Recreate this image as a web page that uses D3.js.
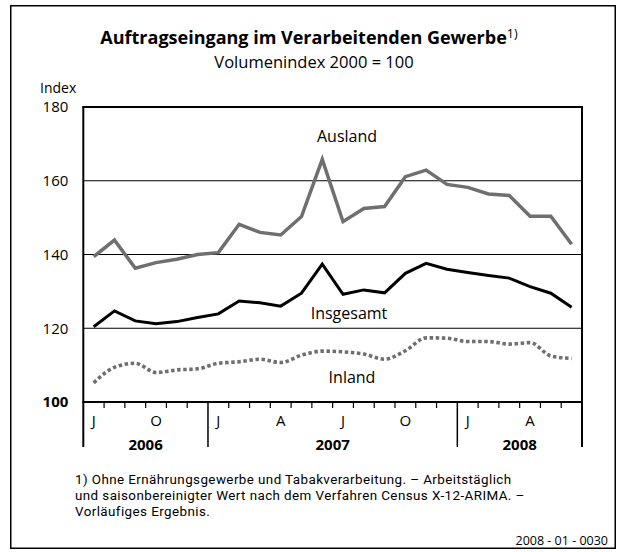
<!DOCTYPE html>
<html><head><meta charset="utf-8">
<script src="https://cdn.jsdelivr.net/npm/d3@7"></script>
<style>body{margin:0;background:#fff}svg{display:block}text{font-family:"Open Sans",sans-serif;fill:#000}</style>
</head><body>
<script>
const months = ["2006-07","2006-08","2006-09","2006-10","2006-11","2006-12","2007-01","2007-02","2007-03","2007-04","2007-05","2007-06","2007-07","2007-08","2007-09","2007-10","2007-11","2007-12","2008-01","2008-02","2008-03","2008-04","2008-05","2008-06"];
const monthLabels = ["J","","","O","","","J","","","A","","","J","","","O","","","J","","","A","",""];
const years = ["2006","2007","2008"];
const yearStart = [0,6,18];
const yearEnd = [6,18,24];
const ausland   = [139.4,143.9,136.3,137.8,138.7,140.0,140.5,148.2,146.0,145.3,150.3,165.8,148.9,152.5,153.0,161.1,162.9,159.0,158.2,156.4,156.0,150.4,150.4,142.8];
const insgesamt = [120.4,124.7,122.0,121.2,121.8,122.9,123.9,127.4,126.9,126.0,129.5,137.4,129.2,130.4,129.6,134.9,137.6,136.0,135.1,134.3,133.6,131.3,129.5,125.7];
const inland    = [105.2,109.4,110.5,108.0,108.7,109.0,110.5,110.9,111.6,110.7,112.7,113.8,113.6,113.0,111.6,113.9,117.4,117.3,116.4,116.4,115.7,116.1,112.5,111.8];
const yTicks = [100,120,140,160,180];
const gridValues = [120,140,160];

const W=617,H=552;
const svg=d3.select("body").append("svg").attr("width",W).attr("height",H);
svg.append("rect").attr("x",10.75).attr("y",5.75).attr("width",604.5).attr("height",542.5)
  .attr("fill","none").attr("stroke","#000").attr("stroke-width",1.5);

const L=83.3,R=582,T=107,B=402;
const x=d3.scaleBand().domain(months).range([L,R]).padding(0);
const y=d3.scaleLinear().domain([100,180]).range([B,T]);
const cx=m=>x(m)+x.bandwidth()/2;

// title
const title=svg.append("text").attr("x",309).attr("y",44).attr("text-anchor","middle")
  .style("font-size","18px").style("font-weight","bold");
title.append("tspan").text("Auftragseingang im Verarbeitenden Gewerbe");
title.append("tspan").attr("dy",-6).style("font-size","12.5px").style("font-weight","normal").text("1)");
svg.append("text").attr("x",314).attr("y",68).attr("text-anchor","middle").style("font-size","16.5px").text("Volumenindex 2000 = 100");

// gridlines
svg.selectAll("line.grid").data(gridValues).join("line").attr("class","grid")
  .attr("x1",L).attr("x2",R).attr("y1",d=>y(d)).attr("y2",d=>y(d)).attr("stroke","#000").attr("stroke-width",1);

// y axis labels
const yAxis=d3.axisLeft(y).tickValues(yTicks).tickSize(0).tickPadding(15).tickFormat(d3.format("d"));
const ga=svg.append("g").attr("transform",`translate(${L},0)`).call(yAxis);
ga.select(".domain").remove();
ga.selectAll("text").style("font-size","15px").style("font-family","'Open Sans',sans-serif").attr("fill","#000")
  .style("font-weight",d=>d===100?"bold":"normal");
svg.append("text").attr("x",40).attr("y",93).style("font-size","14px").text("Index");

// lines
const line=arr=>d3.line().x((d,i)=>cx(months[i])).y(d=>y(d))(arr);
svg.append("path").attr("d",d3.line().x((d,i)=>cx(months[i])).y(d=>y(d)).curve(d3.curveMonotoneX)(inland))
  .attr("fill","none").attr("stroke","#6f6f6f").attr("stroke-width",3.6).attr("stroke-dasharray","3.5,2.6");
svg.append("path").attr("d",line(ausland)).attr("fill","none").attr("stroke","#6f6f6f").attr("stroke-width",3.5).attr("stroke-linejoin","miter");
svg.append("path").attr("d",line(insgesamt)).attr("fill","none").attr("stroke","#000").attr("stroke-width",3).attr("stroke-linejoin","miter");

// frame of plot
svg.append("line").attr("x1",L-1).attr("x2",R+1).attr("y1",T).attr("y2",T).attr("stroke","#000").attr("stroke-width",2);
svg.append("line").attr("x1",L-1).attr("x2",R+1).attr("y1",B).attr("y2",B).attr("stroke","#000").attr("stroke-width",2.2);
svg.append("line").attr("x1",L).attr("x2",L).attr("y1",T).attr("y2",447).attr("stroke","#000").attr("stroke-width",2);
svg.append("line").attr("x1",R).attr("x2",R).attr("y1",T).attr("y2",447).attr("stroke","#000").attr("stroke-width",2);

// month ticks
svg.selectAll("line.mt").data(months.slice(1)).join("line").attr("class","mt")
  .attr("x1",d=>x(d)).attr("x2",d=>x(d)).attr("y1",B).attr("y2",d=>yearStart.includes(months.indexOf(d))?447:408)
  .attr("stroke","#000").attr("stroke-width",d=>yearStart.includes(months.indexOf(d))?1.5:1.2);
svg.selectAll("text.ml").data(months).join("text").attr("class","ml")
  .attr("x",d=>cx(d)).attr("y",426).attr("text-anchor","middle").style("font-size","15px")
  .text((d,i)=>monthLabels[i]);
svg.selectAll("text.yl").data(years).join("text").attr("class","yl")
  .attr("x",(d,i)=>(x(months[yearStart[i]])+ (yearEnd[i]<24? x(months[yearEnd[i]]) : R))/2)
  .attr("y",450).attr("text-anchor","middle").style("font-size","15px").style("font-weight","bold").text(d=>d);

// series labels
svg.append("text").attr("x",347).attr("y",142).attr("text-anchor","middle").style("font-size","16px").text("Ausland");
svg.append("text").attr("x",349).attr("y",319).attr("text-anchor","middle").style("font-size","16px").text("Insgesamt");
svg.append("text").attr("x",352).attr("y",383).attr("text-anchor","middle").style("font-size","16px").text("Inland");

// footnote
const foot=["1) Ohne Ernährungsgewerbe und Tabakverarbeitung. – Arbeitstäglich","und saisonbereinigter Wert nach dem Verfahren Census X-12-ARIMA. –","Vorläufiges Ergebnis."];
svg.selectAll("text.fn").data(foot).join("text").attr("class","fn")
  .attr("x",75).attr("y",(d,i)=>484+i*16).style("font-family","Roboto,sans-serif").style("font-size","13.4px")
  .style("letter-spacing","0.42px").text(d=>d);
svg.append("text").attr("x",608).attr("y",545).attr("text-anchor","end").style("font-size","12.5px").text("2008 - 01 - 0030");
</script>
</body></html>
